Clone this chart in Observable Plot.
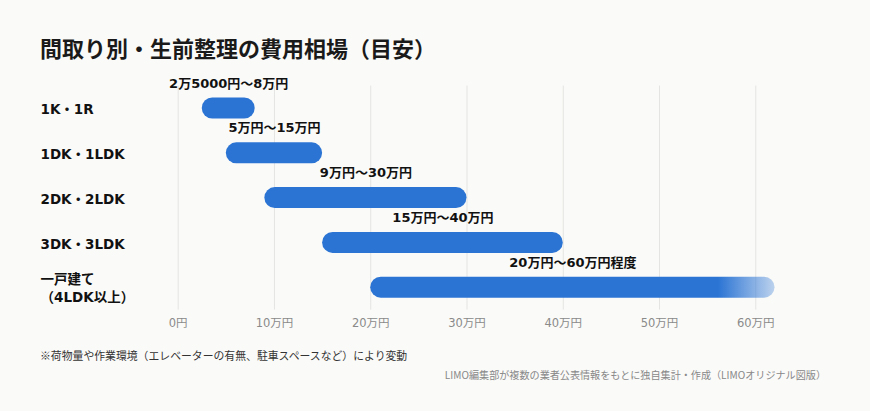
<!DOCTYPE html>
<html><head><meta charset="utf-8">
<script src="https://cdn.jsdelivr.net/npm/d3@7"></script>
<script src="https://cdn.jsdelivr.net/npm/@observablehq/plot@0.6"></script>
<style>
html,body{margin:0;padding:0;background:#fafaf8;}
#wrap{position:relative;width:870px;height:411px;background:#fafaf8;font-family:"DejaVu Sans","Noto Sans CJK JP",sans-serif;}
#title{position:absolute;left:40px;top:35px;font-size:22px;line-height:24px;font-weight:700;color:#1a1a1a;font-family:"Noto Sans CJK JP",sans-serif;white-space:nowrap;}
#chart{position:absolute;left:0;top:70px;}
#note{position:absolute;left:40px;top:347px;font-size:10.85px;line-height:16px;color:#333;font-family:"Noto Sans CJK JP",sans-serif;white-space:nowrap;}
#source{position:absolute;right:44px;top:367px;font-size:10.1px;line-height:16px;color:#888;font-family:"Noto Sans CJK JP",sans-serif;white-space:nowrap;}
</style></head>
<body>
<div id="wrap">
<div id="title">間取り別・生前整理の費用相場（目安）</div>
<div id="chart"></div>
<div id="note">※荷物量や作業環境（エレベーターの有無、駐車スペースなど）により変動</div>
<div id="source">LIMO編集部が複数の業者公表情報をもとに独自集計・作成（LIMOオリジナル図版）</div>
</div>
<script>
// Data (万円)
const categories = ["1K・1R", "1DK・1LDK", "2DK・2LDK", "3DK・3LDK", "一戸建て\n（4LDK以上）"];
const lows = [2.5, 5, 9, 15, 20];
const highs = [8, 15, 30, 40, 60];
// drawn bar end (the last bar fades out slightly beyond 60万 for "程度")
const barEnds = [8, 15, 30, 40, 62];
const rangeLabels = ["2万5000円〜8万円", "5万円〜15万円", "9万円〜30万円", "15万円〜40万円", "20万円〜60万円程度"];
const xTicks = [0, 10, 20, 30, 40, 50, 60];
const xTickLabels = ["0円", "10万円", "20万円", "30万円", "40万円", "50万円", "60万円"];

const rows = categories.map((c, i) => ({
  cat: c, lo: lows[i], hi: highs[i], end: barEnds[i], label: rangeLabels[i],
  fill: i === categories.length - 1 ? "url(#fadeBar)" : "#2b74d4"
}));

const BLUE = "#2b74d4";
const plot = Plot.plot({
  width: 870,
  height: 270,
  marginLeft: 177.7,
  marginRight: 76.2,
  marginTop: 15.6,
  marginBottom: 30.4,
  style: {background: "transparent", fontFamily: "'DejaVu Sans','Noto Sans CJK JP',sans-serif", overflow: "visible"},
  x: {domain: [0, 64]},
  y: {domain: categories, padding: 0, round: false, axis: null},
  marks: [
    Plot.ruleX(xTicks, {stroke: "#e4e4e2", strokeWidth: 1}),
    Plot.axisX({ticks: xTicks, tickSize: 0, tickPadding: 9, tickFormat: (d) => xTickLabels[xTicks.indexOf(d)],
      fill: "#8a8a8a", fontSize: 11.5, label: null}),
    Plot.barX(rows, {y: "cat", x1: "lo", x2: "end", fill: (d) => d.fill, rx: 10.5, insetTop: 11.9, insetBottom: 11.9}),
    Plot.text(rows, {y: "cat", x: (d) => (d.lo + d.end) / 2, text: "label", dy: -25, fontSize: 13, fontWeight: "bold", fill: "#111"}),
    Plot.text(rows, {y: "cat", text: "cat", frameAnchor: "left", textAnchor: "start", dx: -137.7, fontSize: 13.5, fontWeight: "bold", fill: "#111", lineHeight: 1.33})
  ]
});
// gradient for fading end of last bar
const ns = "http://www.w3.org/2000/svg";
const defs = document.createElementNS(ns, "defs");
const grad = document.createElementNS(ns, "linearGradient");
grad.setAttribute("id", "fadeBar");
grad.setAttribute("x1", "0"); grad.setAttribute("x2", "1"); grad.setAttribute("y1", "0"); grad.setAttribute("y2", "0");
[[0, 1], [0.86, 1], [1, 0.3]].forEach(([o, op]) => {
  const s = document.createElementNS(ns, "stop");
  s.setAttribute("offset", o);
  s.setAttribute("stop-color", BLUE);
  s.setAttribute("stop-opacity", op);
  grad.appendChild(s);
});
defs.appendChild(grad);
plot.insertBefore(defs, plot.firstChild);
document.getElementById("chart").appendChild(plot);
</script>
</body></html>
